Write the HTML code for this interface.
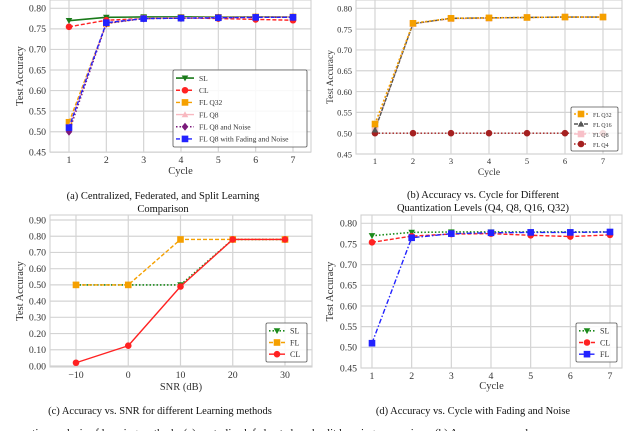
<!DOCTYPE html>
<html><head><meta charset="utf-8">
<style>
html,body{margin:0;padding:0;background:#fff;overflow:hidden;}
svg{display:block;font-family:"Liberation Serif",serif;}
</style></head>
<body>
<svg id="s" width="640" height="431" viewBox="0 0 640 431" xmlns="http://www.w3.org/2000/svg"></svg>
<script>
// ---- data ----
const cycles=[1,2,3,4,5,6,7];
const cycleTicks=[1,2,3,4,5,6,7];
const accTicks=[0.45,0.50,0.55,0.60,0.65,0.70,0.75,0.80];
const aSL=[0.770,0.778,0.779,0.779,0.779,0.779,0.779];
const aCL=[0.755,0.771,0.775,0.777,0.775,0.773,0.771];
const aQ32=[0.523,0.763,0.776,0.777,0.778,0.779,0.779];
const aQ8=[0.512,0.764,0.776,0.777,0.778,0.778,0.779];
const aQ8N=[0.500,0.763,0.775,0.776,0.777,0.778,0.778];
const aQ8F=[0.510,0.765,0.775,0.776,0.777,0.778,0.778];
const bQ32=[0.522,0.764,0.776,0.777,0.778,0.779,0.779];
const bQ16=[0.508,0.763,0.776,0.777,0.778,0.779,0.779];
const bQ8=[0.510,0.763,0.775,0.776,0.778,0.779,0.779];
const bQ4=[0.500,0.500,0.500,0.500,0.500,0.500,0.500];
const snr=[-10,0,10,20,30];
const snrTicks=[-10,0,10,20,30];
const snrAccTicks=[0,0.1,0.2,0.3,0.4,0.5,0.6,0.7,0.8,0.9];
const cSL=[0.50,0.50,0.50,0.78,0.78];
const cFL=[0.50,0.50,0.78,0.78,0.78];
const cCL=[0.02,0.125,0.49,0.78,0.78];
const dSL=[0.770,0.778,0.779,0.779,0.779,0.779,0.779];
const dCL=[0.754,0.769,0.774,0.775,0.771,0.768,0.772];
const dFL=[0.510,0.765,0.775,0.777,0.778,0.778,0.779];

const NS="http://www.w3.org/2000/svg";
const S=document.getElementById('s');
function el(tag,attrs,parent,text){const e=document.createElementNS(NS,tag);for(const k in attrs)e.setAttribute(k,attrs[k]);if(text!==undefined)e.textContent=text;(parent||S).appendChild(e);return e;}

function marker(g,type,x,y,color,sz){
  let m;
  if(type==='v'){m=el('polygon',{points:`${x-sz},${y-sz*0.8} ${x+sz},${y-sz*0.8} ${x},${y+sz}`,fill:color},g);}
  else if(type==='^'){m=el('polygon',{points:`${x-sz},${y+sz*0.8} ${x+sz},${y+sz*0.8} ${x},${y-sz}`,fill:color},g);}
  else if(type==='o'){m=el('circle',{cx:x,cy:y,r:sz,fill:color},g);}
  else if(type==='s'){m=el('rect',{x:x-sz,y:y-sz,width:2*sz,height:2*sz,fill:color},g);}
  else if(type==='d'){m=el('polygon',{points:`${x},${y-sz*1.2} ${x+sz},${y} ${x},${y+sz*1.2} ${x-sz},${y}`,fill:color},g);}
  
  
}

function chart(cfg){
  const g=el('g',{},S);
  
  
  const X=v=>cfg.x0+(v-cfg.xv0)*(cfg.x1-cfg.x0)/(cfg.xv1-cfg.xv0);
  const Y=v=>cfg.y0+(v-cfg.yv0)*(cfg.y1-cfg.y0)/(cfg.yv1-cfg.yv0);
  const B=cfg.box;
  const bg=el('rect',{x:B[0],y:B[1],width:B[2]-B[0],height:B[3]-B[1],fill:'#fff',stroke:'#ccc','stroke-width':1},g);
  
  
  cfg.xt.forEach(t=>{
    const gl=el('line',{x1:X(t),x2:X(t),y1:B[1],y2:B[3],stroke:'#d4d4d4','stroke-width':1.2},g);
    
    
    const tl=el('text',{x:X(t),y:B[3]+cfg.tkOff,'font-size':cfg.fs,'text-anchor':'middle',fill:'#333'},g,cfg.xfmt?cfg.xfmt(t):t);
    
    
  });
  cfg.yt.forEach(t=>{
    const gl=el('line',{x1:B[0],x2:B[2],y1:Y(t),y2:Y(t),stroke:'#d4d4d4','stroke-width':1.2},g);
    
    
    const tl=el('text',{x:B[0]-4,y:Y(t)+3.3,'font-size':cfg.fs,'text-anchor':'end',fill:'#333'},g,t.toFixed(2));
    
    
  });
  const xl=el('text',{x:(B[0]+B[2])/2,y:cfg.xlY,'font-size':cfg.lfs,'text-anchor':'middle',fill:'#333'},g,cfg.xlabel);
  
  
  const yl=el('text',{x:0,y:0,'font-size':cfg.lfs,'text-anchor':'middle',fill:'#333',transform:`translate(${cfg.ylX},${(B[1]+B[3])/2}) rotate(-90)`},g,'Test Accuracy');
  
  
  const order=cfg.order||cfg.series.map((_,i)=>i);
  order.forEach(idx=>{
    const s=cfg.series[idx];
    const sg=el('g',{},g);
    
    
    const pts=s.data.map((v,i)=>X(cfg.xs[i])+','+Y(v)).join(' ');
    el('polyline',{points:pts,fill:'none',stroke:s.color,'stroke-width':s.w||1.4,'stroke-dasharray':s.dash||'none'},sg);
    s.data.forEach((v,i)=>marker(sg,s.m,X(cfg.xs[i]),Y(v),s.color,s.ms||3.3));
  });
  // legend
  const L=cfg.legend;
  const lg=el('g',{},g);
  
  
  el('rect',{x:L[0],y:L[1],width:L[2]-L[0],height:L[3]-L[1],fill:'#fff','fill-opacity':0.85,stroke:'#555','stroke-width':0.8,rx:1.5},lg);
  const n=cfg.series.length, rh=(L[3]-L[1]-4)/n;
  cfg.series.forEach((s,i)=>{
    const cy=L[1]+2+rh*(i+0.5);
    const e=el('g',{},lg);
    
    
    el('line',{x1:L[0]+3,x2:L[0]+3+cfg.lw,y1:cy,y2:cy,stroke:s.color,'stroke-width':s.w||1.4,'stroke-dasharray':s.dash||'none'},e);
    marker(e,s.m,L[0]+3+cfg.lw/2,cy,s.color,s.ms||3.3);
    el('text',{x:L[0]+cfg.lw+8,y:cy+2.8,'font-size':cfg.lgfs,fill:'#333'},e,s.label);
  });
  // caption
  cfg.caption.forEach((c,i)=>{
    const t=el('text',{x:cfg.capX,y:cfg.capY+i*13,'font-size':10.5,'text-anchor':'middle',fill:'#111'},S,c);
    
    
  });
}

chart({name:'chart-a',box:[50,0,311,152],x0:69,x1:293,xv0:1,xv1:7,y0:8.3,y1:152.3,yv0:0.80,yv1:0.45,
  xs:cycles,xt:cycleTicks,yt:accTicks,fs:9.8,lfs:10.5,tkOff:11,xlY:174,ylX:23,xlabel:'Cycle',
  series:[
    {key:'sl',label:'SL',data:aSL,color:'#1a7a1a',m:'v',w:1.6},
    {key:'cl',label:'CL',data:aCL,color:'#f22',m:'o',dash:'4,2'},
    {key:'fl-q32',label:'FL Q32',data:aQ32,color:'#f5a000',m:'s',dash:'4,2'},
    {key:'fl-q8',label:'FL Q8',data:aQ8,color:'#f8b8c0',m:'^'},
    {key:'fl-q8-noise',label:'FL Q8 and Noise',data:aQ8N,color:'#7a1a7a',m:'d',dash:'1.5,2'},
    {key:'fl-q8-fading',label:'FL Q8 with Fading and Noise',data:aQ8F,color:'#22f',m:'s',dash:'4,2'}],
  legend:[173,70,307,147],lw:18,lgfs:7.5,
  caption:['(a) Centralized, Federated, and Split Learning','Comparison'],capX:163,capY:199});

chart({name:'chart-b',box:[356,0,622,154],x0:375,x1:603,xv0:1,xv1:7,y0:8.3,y1:154,yv0:0.80,yv1:0.45,
  xs:cycles,xt:cycleTicks,yt:accTicks,fs:8.5,lfs:9.5,tkOff:10,xlY:175,ylX:333,xlabel:'Cycle',
  order:[3,2,1,0],
  series:[
    {key:'fl-q32',label:'FL Q32',data:bQ32,color:'#f5a000',m:'s',dash:'2,2',w:1.6},
    {key:'fl-q16',label:'FL Q16',data:bQ16,color:'#555',m:'^',dash:'4,1'},
    {key:'fl-q8',label:'FL Q8',data:bQ8,color:'#f8c0c8',m:'s',dash:'5,2'},
    {key:'fl-q4',label:'FL Q4',data:bQ4,color:'#a52020',m:'o',dash:'1.5,2'}],
  legend:[571,107,618,151],lw:14,lgfs:6,
  caption:['(b) Accuracy vs. Cycle for Different','Quantization Levels (Q4, Q8, Q16, Q32)'],capX:483,capY:198});

chart({name:'chart-c',box:[50,215,312,367],x0:76,x1:285,xv0:-10,xv1:30,y0:220,y1:366,yv0:0.9,yv1:0,
  xs:snr,xt:snrTicks,yt:snrAccTicks,fs:9.8,lfs:10.5,tkOff:11,xlY:390,ylX:23,xlabel:'SNR (dB)',
  xfmt:t=>t<0?'\u2212'+Math.abs(t):String(t),
  series:[
    {key:'sl',label:'SL',data:cSL,color:'#1a8a1a',m:'v',dash:'1.5,2',w:1.6},
    {key:'fl',label:'FL',data:cFL,color:'#f5a000',m:'s',dash:'4,2'},
    {key:'cl',label:'CL',data:cCL,color:'#f22',m:'o'}],
  legend:[266,323,307,362],lw:16,lgfs:8,
  caption:['(c) Accuracy vs. SNR for different Learning methods'],capX:160,capY:414});

chart({name:'chart-d',box:[361,215,622,368],x0:372,x1:610,xv0:1,xv1:7,y0:223.3,y1:368,yv0:0.80,yv1:0.45,
  xs:cycles,xt:cycleTicks,yt:accTicks,fs:9.8,lfs:10.5,tkOff:11,xlY:389,ylX:333,xlabel:'Cycle',
  series:[
    {key:'sl',label:'SL',data:dSL,color:'#1a8a1a',m:'v',dash:'1.5,2',w:1.6},
    {key:'cl',label:'CL',data:dCL,color:'#f22',m:'o',dash:'4,2'},
    {key:'fl',label:'FL',data:dFL,color:'#22f',m:'s',dash:'5,2,1.5,2'}],
  legend:[576,323,617,362],lw:16,lgfs:8,
  caption:['(d) Accuracy vs. Cycle with Fading and Noise'],capX:473,capY:414});

const fc=el('text',{x:-8,y:436,'font-size':11,fill:'#111'},S,'Comparative analysis of learning methods: (a) centralized, federated, and split learning comparison; (b) Accuracy vs. cycle');


</script>
</body></html>
